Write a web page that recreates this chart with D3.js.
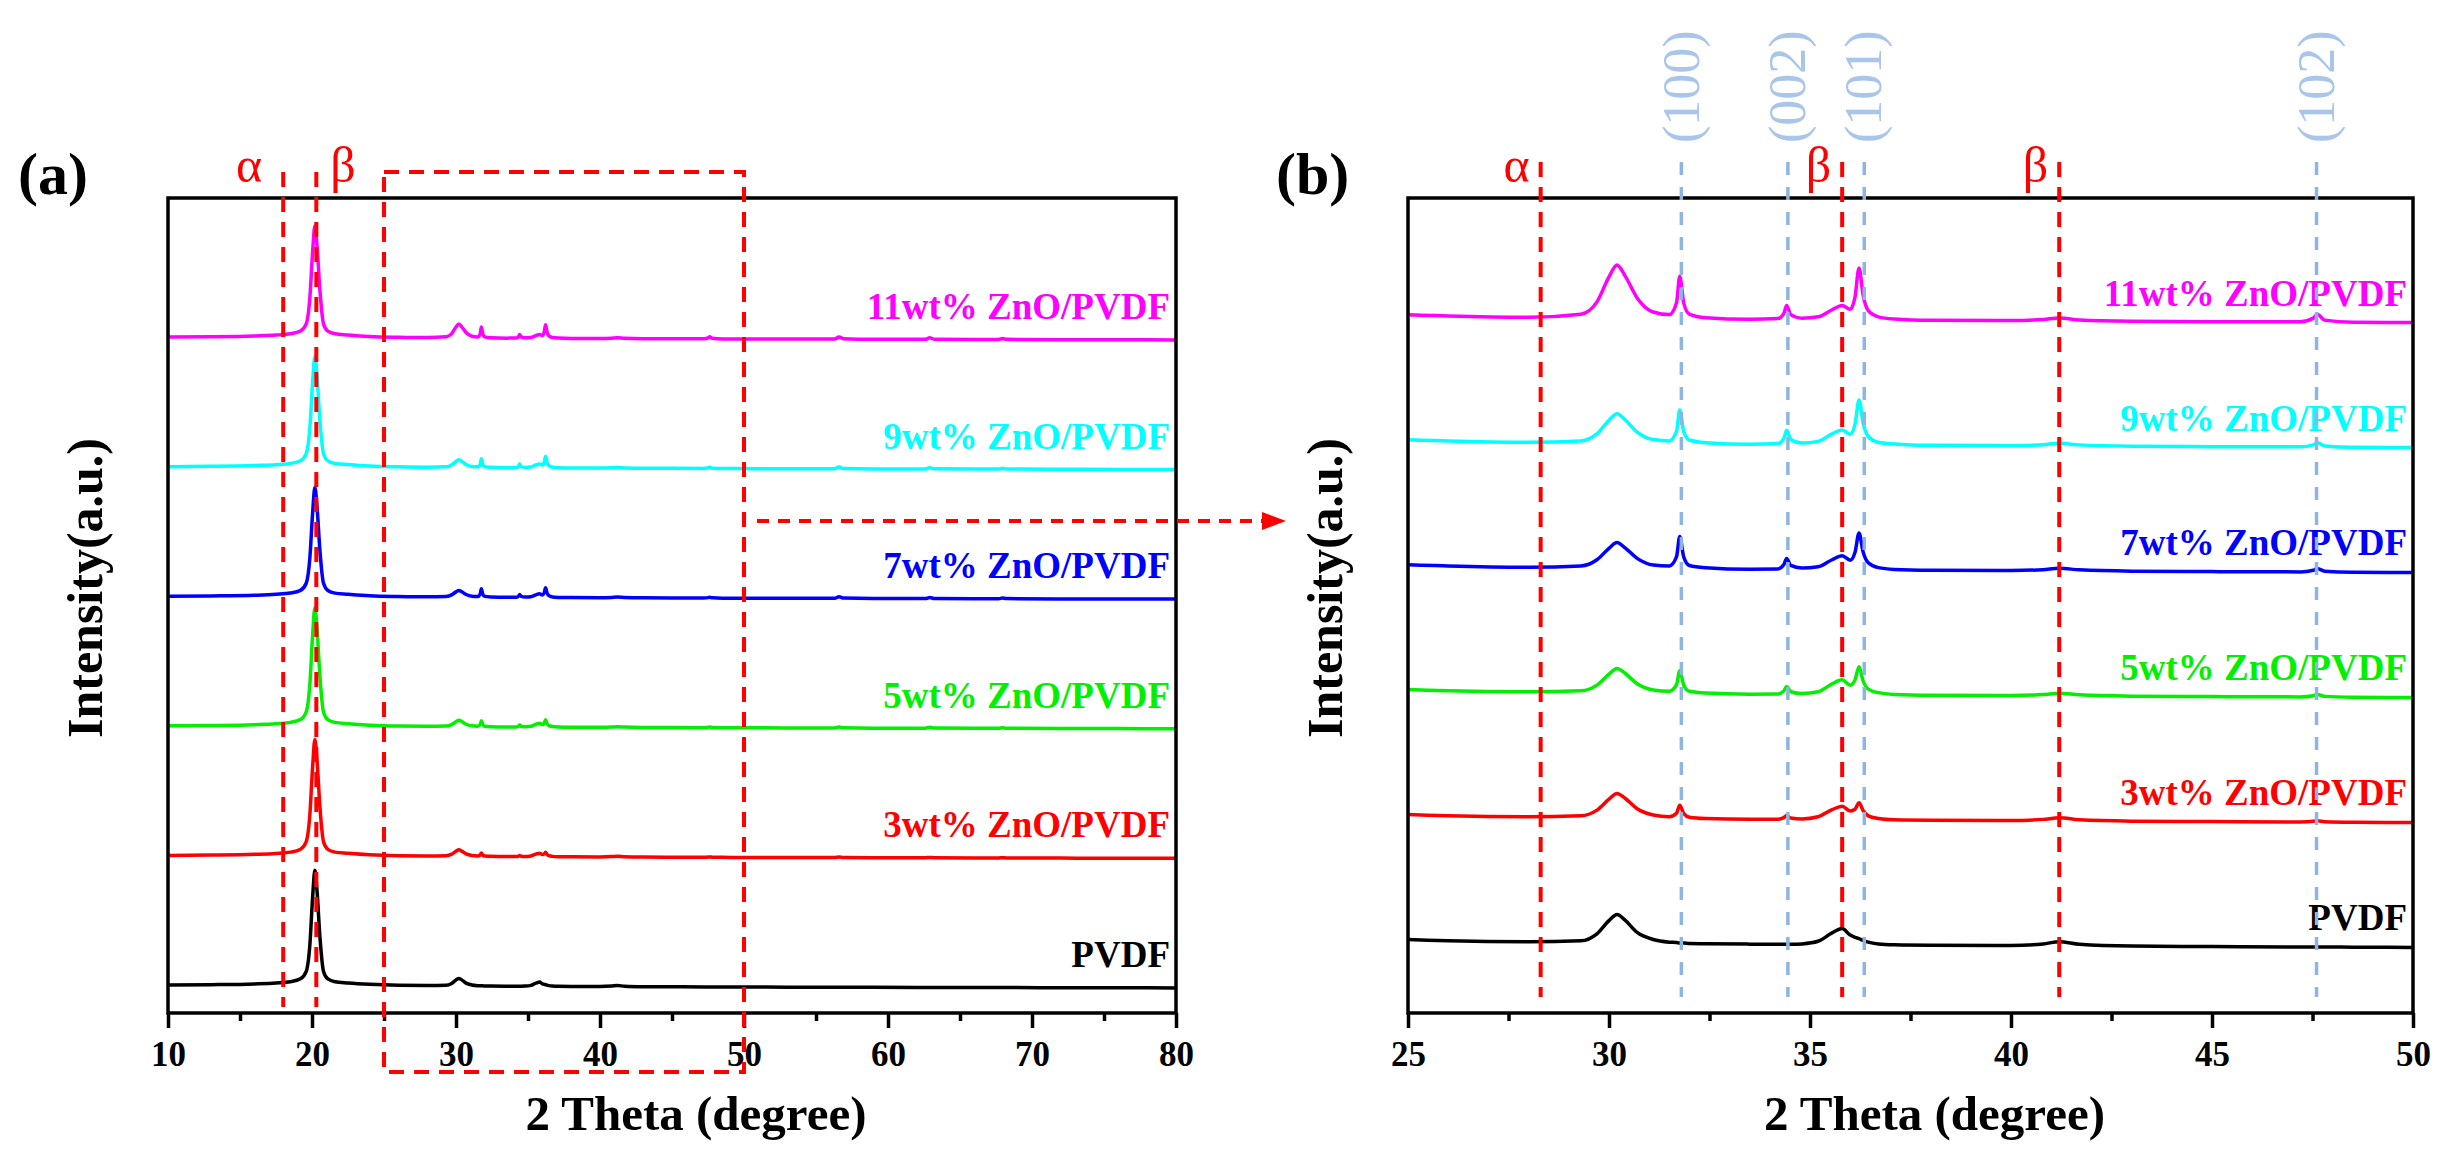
<!DOCTYPE html>
<html>
<head>
<meta charset="utf-8">
<script src="https://cdn.jsdelivr.net/npm/d3@7"></script>
<style>
    html, body { margin: 0; padding: 0; background: #fff; }
    svg text { font-family: 'Liberation Serif', 'Times New Roman', serif; }
</style>
</head>
<body>
<svg id="chart" width="2453" height="1167"></svg>
<script>
// 2 theta grid shared by every pattern (degree)
const twoTheta = [
    10, 13, 16, 17.5, 18.5, 19.2, 19.6, 19.85, 20.05, 20.2,
    20.35, 20.55, 20.8, 21.1, 21.6, 22.5, 24, 26, 28, 29.3,
    29.7, 30.0, 30.2, 30.4, 30.7, 31.1, 31.5, 31.68, 31.76, 31.86,
    32.0, 32.4, 33.5, 34.2, 34.35, 34.42, 34.52, 34.8, 35.2, 35.55,
    35.8, 36.0, 36.12, 36.22, 36.32, 36.45, 36.7, 37.1, 38, 40,
    40.8, 41.2, 41.7, 43, 45, 47.2, 47.52, 47.62, 47.8, 48.5,
    50, 53, 56.3, 56.6, 56.9, 59, 62.6, 62.9, 63.2, 66,
    67.7, 67.95, 68.2, 72, 76, 80
];

// intensities (a.u.)
const pvdf = [
    5.6, 5.9, 6.6, 7.4, 8.5, 11.0, 17.5, 40.4, 83.4, 105.4,
    87.4, 47.4, 17.4, 10.9, 8.5, 7.4, 6.2, 5.4, 5.2, 5.4,
    7.0, 10.0, 11.4, 10.1, 7.3, 5.7, 5.1, 5.0, 4.9, 4.9,
    4.8, 4.75, 4.65, 4.6, 4.6, 4.6, 4.6, 4.7, 5.3, 7.2,
    8.2, 6.7, 6.2, 5.9, 5.5, 5.1, 4.7, 4.5, 4.4, 4.35,
    4.7, 5.2, 4.6, 4.2, 4.1, 4.0, 4.0, 4.0, 4.0, 3.95,
    3.9, 3.8, 3.7, 3.7, 3.7, 3.6, 3.5, 3.5, 3.5, 3.45,
    3.4, 3.4, 3.4, 3.3, 3.2, 3.1
];
const zno3 = [
    5.6, 5.9, 6.6, 7.4, 8.5, 11.0, 17.6, 40.8, 84.2, 106.4,
    88.2, 47.8, 17.5, 10.9, 8.5, 7.5, 6.2, 5.4, 5.2, 5.4,
    6.7, 9.2, 10.5, 9.4, 7.0, 5.6, 5.2, 6.0, 7.8, 5.9,
    5.1, 4.8, 4.65, 4.65, 5.0, 5.5, 4.9, 4.7, 5.2, 6.8,
    7.6, 6.5, 6.9, 8.4, 6.6, 5.4, 4.8, 4.5, 4.4, 4.35,
    4.6, 4.95, 4.5, 4.2, 4.1, 4.0, 4.15, 4.3, 4.08, 3.95,
    3.9, 3.8, 3.75, 4.2, 3.8, 3.6, 3.55, 3.9, 3.6, 3.45,
    3.43, 3.7, 3.46, 3.3, 3.2, 3.1
];
const zno5 = [
    5.6, 5.9, 6.6, 7.4, 8.6, 11.1, 17.8, 41.5, 85.7, 108.4,
    89.9, 48.7, 17.7, 11.0, 8.6, 7.5, 6.2, 5.4, 5.2, 5.4,
    6.7, 9.2, 10.5, 9.4, 7.0, 5.6, 5.3, 6.8, 10.0, 6.7,
    5.3, 4.9, 4.65, 4.7, 5.4, 6.4, 5.2, 4.8, 5.2, 7.0,
    7.9, 6.7, 7.9, 10.9, 7.7, 5.8, 5.0, 4.6, 4.4, 4.33,
    4.55, 4.85, 4.5, 4.2, 4.1, 4.03, 4.3, 4.6, 4.15, 3.95,
    3.9, 3.8, 3.8, 4.7, 3.9, 3.6, 3.58, 4.3, 3.66, 3.45,
    3.45, 3.9, 3.5, 3.3, 3.2, 3.1
];
const zno7 = [
    5.6, 5.9, 6.5, 7.3, 8.4, 10.7, 16.9, 38.7, 79.5, 100.4,
    83.3, 45.3, 16.8, 10.6, 8.3, 7.4, 6.1, 5.4, 5.1, 5.4,
    6.8, 9.4, 10.7, 9.5, 7.1, 5.6, 5.4, 7.5, 12.1, 7.4,
    5.5, 5.0, 4.65, 4.7, 5.7, 7.1, 5.5, 4.9, 5.2, 6.8,
    7.7, 6.7, 8.5, 12.9, 8.6, 6.1, 5.0, 4.6, 4.4, 4.33,
    4.55, 4.85, 4.5, 4.2, 4.1, 4.04, 4.4, 4.8, 4.2, 3.95,
    3.9, 3.8, 3.85, 5.2, 4.0, 3.6, 3.6, 4.5, 3.7, 3.45,
    3.47, 4.1, 3.54, 3.3, 3.2, 3.1
];
const zno9 = [
    5.6, 5.9, 6.6, 7.3, 8.4, 10.7, 17.0, 39.0, 80.3, 101.4,
    84.1, 45.7, 16.9, 10.6, 8.4, 7.4, 6.1, 5.4, 5.1, 5.4,
    7.0, 10.1, 11.6, 10.2, 7.4, 5.7, 5.4, 7.6, 12.4, 7.5,
    5.6, 5.0, 4.65, 4.8, 6.0, 7.8, 5.7, 4.9, 5.3, 7.0,
    7.9, 6.9, 9.2, 14.7, 9.5, 6.4, 5.1, 4.7, 4.4, 4.33,
    4.55, 4.85, 4.5, 4.2, 4.1, 4.05, 4.5, 5.0, 4.25, 3.95,
    3.9, 3.8, 3.86, 5.3, 4.0, 3.6, 3.6, 4.6, 3.7, 3.45,
    3.48, 4.2, 3.56, 3.3, 3.2, 3.1
];
const zno11 = [
    5.6, 5.9, 6.6, 7.3, 8.4, 10.8, 17.1, 39.4, 81.1, 102.4,
    84.9, 46.1, 17.0, 10.7, 8.4, 7.4, 6.1, 5.4, 5.1, 5.8,
    8.6, 14.3, 17.0, 14.5, 9.5, 6.3, 5.7, 8.4, 14.4, 8.3,
    5.8, 5.0, 4.65, 4.8, 6.0, 7.8, 5.7, 4.9, 5.2, 6.8,
    7.8, 6.9, 9.7, 16.3, 10.2, 6.6, 5.2, 4.7, 4.4, 4.34,
    4.6, 4.95, 4.5, 4.2, 4.1, 4.09, 4.9, 5.8, 4.45, 3.95,
    3.9, 3.8, 3.9, 5.7, 4.1, 3.6, 3.64, 4.9, 3.78, 3.45,
    3.5, 4.4, 3.6, 3.3, 3.2, 3.1
];

const sampleNames = ['PVDF', '3wt% ZnO/PVDF', '5wt% ZnO/PVDF', '7wt% ZnO/PVDF', '9wt% ZnO/PVDF', '11wt% ZnO/PVDF'];
const sampleValues = [pvdf, zno3, zno5, zno7, zno9, zno11];
const sampleColors = ['#000000', '#ff0000', '#00f000', '#0000ff', '#00ffff', '#ff00ff'];

// axis ticks
const xTicksA = [10, 20, 30, 40, 50, 60, 70, 80];
const xMinorA = [15, 25, 35, 45, 55, 65, 75];
const xTicksB = [25, 30, 35, 40, 45, 50];
const xMinorB = [27.5, 32.5, 37.5, 42.5, 47.5];

// phase markers (degree)
const phaseA = [18, 20.3];
const phaseLabelsA = ['α', 'β'];
const phaseB = [28.3, 35.8, 41.2];
const phaseLabelsB = ['α', 'β', 'β'];
const znoPeaks = [31.8, 34.45, 36.35, 47.6];
const znoLabels = ['(100)', '(002)', '(101)', '(102)'];
// zoomed window shown in (b)
const zoomRange = [25, 50];

const svg = d3.select('#chart');
const plotTop = 198, plotBottom = 1013;
const serif = "'Liberation Serif', 'Times New Roman', serif";

function drawPanel(cfg) {
    const x = d3.scaleLinear().domain(cfg.xDomain).range([cfg.left, cfg.right]);
    const y = d3.scaleLinear().domain(cfg.yDomain).range([plotBottom, plotTop]);

    const g = svg.append('g');

    g.append('clipPath').attr('id', 'clip-' + cfg.id)
        .append('rect')
        .attr('x', cfg.left).attr('y', plotTop)
        .attr('width', cfg.right - cfg.left).attr('height', plotBottom - plotTop);

    const line = d3.line()
        .x(d => x(d[0]))
        .y(d => y(d[1]))
        .curve(d3.curveMonotoneX);

    // courbes empilees
    sampleValues.forEach((vals, i) => {
        const pts = twoTheta.map((t, j) => [t, vals[j] + i * cfg.step]);
        g.append('path')
            .attr('clip-path', `url(#clip-${cfg.id})`)
            .attr('d', line(pts))
            .attr('fill', 'none')
            .attr('stroke', sampleColors[i])
            .attr('stroke-width', 3.5)
            .attr('stroke-linejoin', 'round');

        // label above the right end of the curve
        const last = vals[vals.length - 1];
        const endIdx = twoTheta.findIndex(t => t >= cfg.xDomain[1]);
        const endVal = endIdx >= 0 ? vals[endIdx] : last;
        g.append('text')
            .attr('x', cfg.right - 6)
            .attr('y', y(endVal + i * cfg.step) - cfg.labelGap)
            .attr('text-anchor', 'end')
            .style('font-size', '37px')
            .style('font-weight', 'bold')
            .style('fill', sampleColors[i])
            .text(sampleNames[i]);
    });

    // axes
    const axis = g.append('g')
        .attr('transform', `translate(0,${plotBottom})`)
        .call(d3.axisBottom(x).tickValues(cfg.ticks).tickSize(15).tickPadding(13)
            .tickFormat(d3.format('d')));
    axis.select('.domain').remove();
    axis.selectAll('line').attr('stroke', '#000').attr('stroke-width', 3.5);
    axis.selectAll('text')
        .style('font-family', serif)
        .style('font-size', '35px')
        .style('font-weight', 'bold')
        .style('fill', '#000');

    const minor = g.append('g')
        .attr('transform', `translate(0,${plotBottom})`)
        .call(d3.axisBottom(x).tickValues(cfg.minor).tickSize(8).tickFormat(''));
    minor.select('.domain').remove();
    minor.selectAll('line').attr('stroke', '#000').attr('stroke-width', 3.5);

    // cadre
    g.append('rect')
        .attr('x', cfg.left).attr('y', plotTop)
        .attr('width', cfg.right - cfg.left).attr('height', plotBottom - plotTop)
        .attr('fill', 'none')
        .attr('stroke', '#000')
        .attr('stroke-width', 3.5);

    // titres
    g.append('text')
        .attr('x', (cfg.left + cfg.right) / 2 + 24)
        .attr('y', 1130)
        .attr('text-anchor', 'middle')
        .style('font-size', '49px')
        .style('font-weight', 'bold')
        .text('2 Theta (degree)');

    g.append('text')
        .attr('transform', `translate(${cfg.left - 66},588) rotate(-90)`)
        .attr('text-anchor', 'middle')
        .style('font-size', '50px')
        .style('font-weight', 'bold')
        .text('Intensity(a.u.)');

    g.append('text')
        .attr('x', cfg.left - cfg.tagOffset)
        .attr('y', 194)
        .style('font-size', '60px')
        .style('font-weight', 'bold')
        .text(cfg.tag);

    return { x, y, g };
}

// (a) full range
const a = drawPanel({
    id: 'a', tag: '(a)', tagOffset: 150,
    left: 168, right: 1176,
    xDomain: [10, 80], yDomain: [-18.7, 690], step: 112.7,
    ticks: xTicksA, minor: xMinorA, labelGap: 21
});

// (b) zoom 25-50
const b = drawPanel({
    id: 'b', tag: '(b)', tagOffset: 132,
    left: 1408, right: 2413,
    xDomain: zoomRange, yDomain: [-11.0, 174.2], step: 28.4,
    ticks: xTicksB, minor: xMinorB, labelGap: 17
});

const red = '#ff0000';
const lightBlue = '#8db4e3';

// lignes de phase (a)
phaseA.forEach((p, i) => {
    a.g.append('line')
        .attr('x1', a.x(p)).attr('x2', a.x(p))
        .attr('y1', 172).attr('y2', 1007)
        .attr('stroke', red).attr('stroke-width', 4)
        .attr('stroke-dasharray', '15,10');
    a.g.append('text')
        .attr('x', a.x(p) + (i === 0 ? -21 : 14))
        .attr('y', 182)
        .attr('text-anchor', i === 0 ? 'end' : 'start')
        .style('font-size', '50px')
        .style('fill', red)
        .text(phaseLabelsA[i]);
});

// cadre pointille autour de la zone agrandie + fleche
const zx0 = a.x(zoomRange[0]), zx1 = a.x(zoomRange[1]);
a.g.append('rect')
    .attr('x', zx0).attr('y', 172)
    .attr('width', zx1 - zx0).attr('height', 1072 - 172)
    .attr('fill', 'none')
    .attr('stroke', red).attr('stroke-width', 4)
    .attr('stroke-dasharray', '15,10');

const arrowY = 521, arrowEnd = 1286;
a.g.append('line')
    .attr('x1', zx1 + 13).attr('x2', arrowEnd - 22)
    .attr('y1', arrowY).attr('y2', arrowY)
    .attr('stroke', red).attr('stroke-width', 4)
    .attr('stroke-dasharray', '12,9');
a.g.append('path')
    .attr('d', `M${arrowEnd - 24},${arrowY - 9} L${arrowEnd},${arrowY} L${arrowEnd - 24},${arrowY + 9} Z`)
    .attr('fill', red);

// lignes ZnO (b)
znoPeaks.forEach((p, i) => {
    b.g.append('line')
        .attr('x1', b.x(p)).attr('x2', b.x(p))
        .attr('y1', 162).attr('y2', 997)
        .attr('stroke', lightBlue).attr('stroke-width', 3.5)
        .attr('stroke-dasharray', '13,12');
    b.g.append('text')
        .attr('transform', `translate(${b.x(p)},143) rotate(-90)`)
        .attr('dy', '0.33em')
        .style('font-size', '52px')
        .style('fill', '#a9c6ea')
        .text(znoLabels[i]);
});

// lignes de phase (b)
phaseB.forEach((p, i) => {
    b.g.append('line')
        .attr('x1', b.x(p)).attr('x2', b.x(p))
        .attr('y1', 162).attr('y2', 997)
        .attr('stroke', red).attr('stroke-width', 4)
        .attr('stroke-dasharray', '15,10');
    b.g.append('text')
        .attr('x', b.x(p) - 11)
        .attr('y', 182)
        .attr('text-anchor', 'end')
        .style('font-size', '50px')
        .style('fill', red)
        .text(phaseLabelsB[i]);
});
</script>
</body>
</html>
